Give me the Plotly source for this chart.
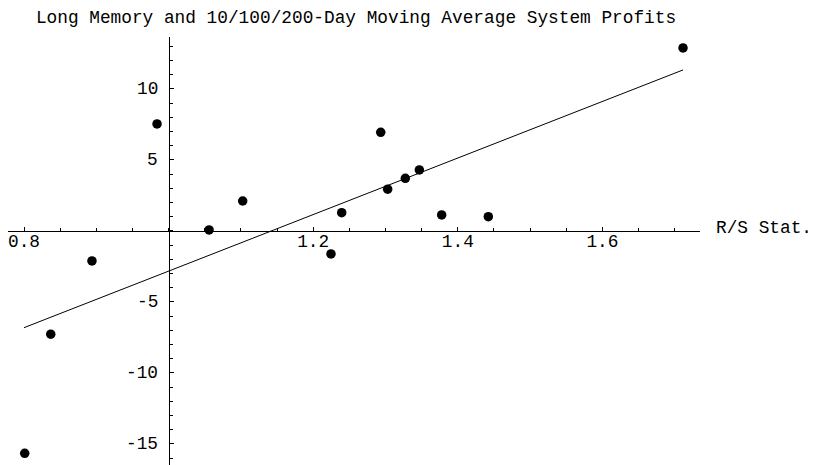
import plotly.graph_objects as go

# R/S statistic vs. moving-average system profit
rs_stat = [1.7115, 0.984, 1.056, 1.1025, 0.894, 0.837, 0.801, 1.2246, 1.2394,
           1.2934, 1.303, 1.3274, 1.3468, 1.3777, 1.4422]
profit = [12.89, 7.54, 0.07, 2.11, -2.11, -7.27, -15.66, -1.62, 1.29,
          6.95, 2.94, 3.71, 4.30, 1.13, 1.01]

# fitted regression line (end points)
fit_x = [0.80, 1.7115]
fit_y = [-6.81, 11.34]

x_major = [0.8, 1.2, 1.4, 1.6]
x_major_text = ["0.8", "1.2", "1.4", "1.6"]
y_major = [-15, -10, -5, 5, 10]
y_major_text = ["-15", "-10", "-5", "5", "10"]

title_text = "Long Memory and 10/100/200-Day Moving Average System Profits"
x_label = "R/S Stat."

x_range = [0.77787, 1.73499]
y_range = [-16.48, 13.66]
x_origin = 1.0
y_origin = 0.0

FONT = "Liberation Mono, Courier New, monospace"
FS = 17.8

# page body has an 8px margin, so the figure is 8px smaller than the window
W, H = 809, 457
L, R, T, B = 0, 117, 29, 0
plot_w = W - L - R
plot_h = H - T - B

fig = go.Figure()
fig.add_trace(go.Scatter(x=fit_x, y=fit_y, mode="lines",
                         line=dict(color="black", width=1), hoverinfo="skip"))
fig.add_trace(go.Scatter(x=rs_stat, y=profit, mode="markers",
                         marker=dict(color="black", size=9.5, line=dict(width=0))))

xpos = (y_origin - y_range[0]) / (y_range[1] - y_range[0])
ypos = (x_origin - x_range[0]) / (x_range[1] - x_range[0])

annotations = [dict(text=x_label, xref="paper", yref="paper",
                    x=805 / plot_w, y=xpos + 3 / plot_h,
                    xanchor="right", yanchor="middle", showarrow=False,
                    borderpad=0,
                    font=dict(family=FONT, size=FS, color="black"))]
# y tick labels, placed left of the vertical axis that crosses at x_origin
for v, t in zip(y_major, y_major_text):
    annotations.append(dict(text=t, xref="x", yref="y", x=x_origin, y=v,
                            xanchor="right", yanchor="middle", xshift=-9,
                            showarrow=False,
                            font=dict(family=FONT, size=FS, color="black")))

fig.update_layout(
    width=W, height=H,
    margin=dict(l=L, r=R, t=T, b=B, pad=0),
    plot_bgcolor="white", paper_bgcolor="white",
    showlegend=False,
    font=dict(family=FONT, size=FS, color="black"),
    title=dict(text=title_text, x=348 / W, xanchor="center",
               y=1 - 9 / H, yanchor="middle",
               font=dict(family=FONT, size=FS, color="black")),
    xaxis=dict(range=x_range, anchor="free", position=xpos,
               showline=True, linecolor="black", linewidth=1,
               showgrid=False, zeroline=False,
               ticks="inside", ticklen=4, tickcolor="black", tickwidth=1,
               tickvals=x_major, ticktext=x_major_text,
               ticklabelstandoff=-6, ticklabeloverflow="allow",
               minor=dict(dtick=0.05, tick0=0.8, ticks="inside", ticklen=3,
                          tickcolor="black", showgrid=False)),
    yaxis=dict(range=y_range, anchor="free", position=ypos,
               showline=True, linecolor="black", linewidth=1,
               showgrid=False, zeroline=False,
               ticks="inside", ticklen=4, tickcolor="black", tickwidth=1,
               tickvals=y_major, showticklabels=False,
               minor=dict(dtick=1, tick0=0, ticks="inside", ticklen=3,
                          tickcolor="black", showgrid=False)),
    annotations=annotations,
)

fig.write_html("out.html")
